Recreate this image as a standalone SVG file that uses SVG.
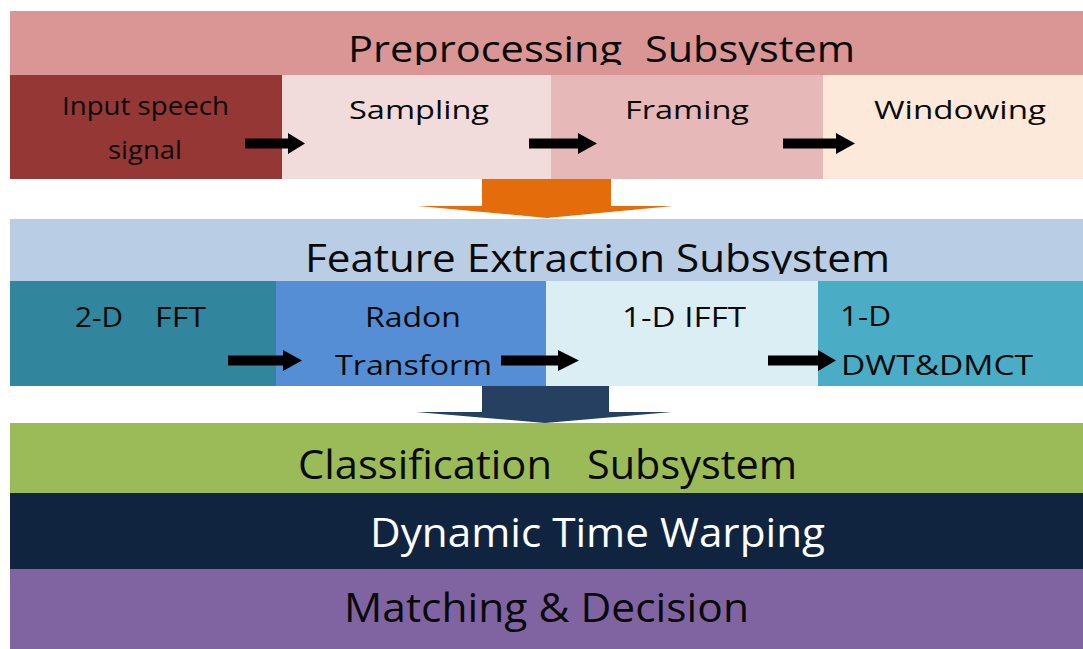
<svg xmlns="http://www.w3.org/2000/svg" width="1083" height="649" viewBox="0 0 1083 649">
<style>
text{font-family:"Open Sans","Liberation Sans",sans-serif;fill:#0a0a0a}
.t{font-size:36px}
.r{font-size:26px}
.b{font-size:41px}
.w{fill:#ffffff}
.blk{fill:#000000}
</style>
<defs>
<clipPath id="c1"><rect x="0" y="0" width="1083" height="65"/></clipPath>
<clipPath id="c2"><rect x="0" y="219" width="1083" height="55"/></clipPath>
</defs>
<rect width="1083" height="649" fill="#ffffff"/>
<g id="preprocessing">
<rect x="10" y="11" width="1073" height="64" fill="#D99694"/>
<text class="t" clip-path="url(#c1)" y="62"><tspan x="348" textLength="274" lengthAdjust="spacingAndGlyphs">Preprocessing</tspan><tspan x="645" textLength="210" lengthAdjust="spacingAndGlyphs">Subsystem</tspan></text>
</g>
<g id="input">
<rect x="10" y="75" width="272" height="104" fill="#953735"/>
<text class="r" x="62" y="115" textLength="167" lengthAdjust="spacingAndGlyphs">Input speech</text>
<text class="r" x="108" y="159" textLength="74" lengthAdjust="spacingAndGlyphs">signal</text>
</g>
<g id="sampling">
<rect x="282" y="75" width="269" height="104" fill="#F2DCDB"/>
<text class="r" x="349" y="119" textLength="140" lengthAdjust="spacingAndGlyphs">Sampling</text>
</g>
<g id="framing">
<rect x="551" y="75" width="272" height="104" fill="#E6B9B8"/>
<text class="r" x="625" y="119" textLength="124" lengthAdjust="spacingAndGlyphs">Framing</text>
</g>
<g id="windowing">
<rect x="823" y="75" width="260" height="104" fill="#FDE9D9"/>
<text class="r" x="874" y="119" textLength="172" lengthAdjust="spacingAndGlyphs">Windowing</text>
</g>
<g id="feature">
<rect x="10" y="219" width="1073" height="62" fill="#B9CDE5"/>
<text class="t" clip-path="url(#c2)" font-size="39" x="305" y="272" textLength="585" lengthAdjust="spacingAndGlyphs" style="font-size:39px">Feature Extraction Subsystem</text>
</g>
<g id="fft2d">
<rect x="10" y="281" width="266" height="105" fill="#31859C"/>
<text class="r" y="327" style="font-size:28px"><tspan x="75" textLength="48" lengthAdjust="spacingAndGlyphs">2-D</tspan><tspan x="155" textLength="51" lengthAdjust="spacingAndGlyphs">FFT</tspan></text>
</g>
<g id="radon">
<rect x="276" y="281" width="270" height="105" fill="#558ED5"/>
<text class="r" x="365" y="327" textLength="96" lengthAdjust="spacingAndGlyphs" style="font-size:28px">Radon</text>
<text class="r" x="335" y="375" textLength="157" lengthAdjust="spacingAndGlyphs" style="font-size:28px">Transform</text>
</g>
<g id="ifft">
<rect x="546" y="281" width="272" height="105" fill="#DBEEF4"/>
<text class="r" x="622" y="327" textLength="124" lengthAdjust="spacingAndGlyphs" style="font-size:28px">1-D IFFT</text>
</g>
<g id="dwt">
<rect x="818" y="281" width="265" height="105" fill="#4BACC6"/>
<text class="r" x="840" y="326" textLength="51" lengthAdjust="spacingAndGlyphs" style="font-size:28px">1-D</text>
<text class="r" x="841" y="375" textLength="192" lengthAdjust="spacingAndGlyphs" style="font-size:28px">DWT&amp;DMCT</text>
</g>
<g id="classification">
<rect x="10" y="423" width="1073" height="70" fill="#9BBB59"/>
<text class="b" y="479"><tspan x="298" textLength="254" lengthAdjust="spacingAndGlyphs">Classification</tspan><tspan x="587" textLength="210" lengthAdjust="spacingAndGlyphs">Subsystem</tspan></text>
</g>
<g id="dtw">
<rect x="10" y="493" width="1073" height="76" fill="#10243F"/>
<text class="b w" x="370" y="547" textLength="455" lengthAdjust="spacingAndGlyphs">Dynamic Time Warping</text>
</g>
<g id="matching">
<rect x="10" y="569" width="1073" height="80" fill="#8064A2"/>
<text class="b" x="344" y="622" textLength="405" lengthAdjust="spacingAndGlyphs">Matching &amp; Decision</text>
</g>
<g id="connectors">
<polygon fill="#E46C0A" points="482,179 611,179 611,206 673,206 547,218 418,206 482,206"/>
<polygon fill="#254061" points="482,386 609,386 609,412 672,412 545,423 416,412 482,412"/>
<polygon class="blk" points="245,138.5 288,138.5 288,133 305,143.5 288,154 288,148.5 245,148.5"/>
<polygon class="blk" points="529,138.5 578,138.5 578,133 597,143.5 578,154 578,148.5 529,148.5"/>
<polygon class="blk" points="783,138.5 836,138.5 836,133 855,143.5 836,154 836,148.5 783,148.5"/>
<polygon class="blk" points="228,355.5 283,355.5 283,350 302,360.5 283,371 283,365.5 228,365.5"/>
<polygon class="blk" points="501,355.5 558,355.5 558,350 579,360.5 558,371 558,365.5 501,365.5"/>
<polygon class="blk" points="768,355.5 818,355.5 818,350 836,360.5 818,371 818,365.5 768,365.5"/>
</g>
</svg>
